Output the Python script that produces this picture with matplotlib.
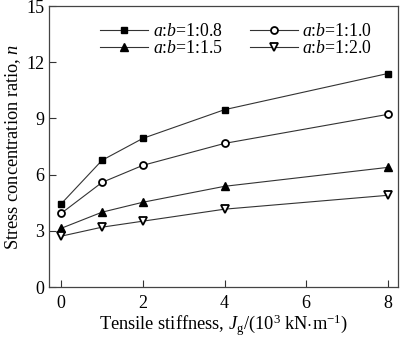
import matplotlib
matplotlib.use("Agg")
import matplotlib.pyplot as plt

x = [0, 1, 2, 4, 8]
s08 = [4.45, 6.77, 7.94, 9.47, 11.4]
s10 = [3.94, 5.59, 6.5, 7.67, 9.22]
s15 = [3.14, 4.0, 4.53, 5.38, 6.39]
s20 = [2.72, 3.2, 3.52, 4.16, 4.9]
labels = [r"$a$:$b$=1:0.8", r"$a$:$b$=1:1.0", r"$a$:$b$=1:1.5", r"$a$:$b$=1:2.0"]

plt.rcParams['font.family'] = ['Liberation Serif', 'DejaVu Serif']
plt.rcParams['mathtext.fontset'] = 'custom'
plt.rcParams['mathtext.it'] = 'Liberation Serif:italic'
plt.rcParams['mathtext.rm'] = 'Liberation Serif'

fig = plt.figure(figsize=(4, 3.37), dpi=100)
ax = fig.add_axes([0.1225, 0.148, 0.8725, 0.834])

lc = '#333333'
kw = dict(color=lc, lw=0.8, markeredgecolor='black')
h1, = ax.plot(x, s08, marker='s', markersize=4.8, markerfacecolor='black', label=labels[0], **kw)
h2, = ax.plot(x, s10, marker='o', markersize=5, markerfacecolor='white', markeredgewidth=1.3, label=labels[1], **kw)
h3, = ax.plot(x, s15, marker='^', markersize=6, markerfacecolor='black', label=labels[2], **kw)
h4, = ax.plot(x, s20, marker='v', markersize=5.5, markerfacecolor='white', markeredgewidth=1.3, label=labels[3], **kw)

ax.set_xlim(-0.3, 8.25)
ax.set_ylim(0, 15)
ax.set_xticks([0, 2, 4, 6, 8])
ax.set_yticks([0, 3, 6, 9, 12, 15])
ax.tick_params(direction='in', labelsize=13, length=5, width=0.8, colors='#333333', labelcolor='black')
ax.tick_params(axis='x', pad=6)
for sp in ax.spines.values():
    sp.set_color('#444444')
    sp.set_linewidth(0.9)

ax.set_xlabel(r"Tensile stiffness, $J$$_{\rm g}$/(10$^3$ kN$\cdot$m$^{-1}$)", fontsize=13.2, labelpad=0)
ax.set_ylabel(r"Stress concentration ratio, $n$", fontsize=13.2, labelpad=2)

ax.legend(handles=[h1, h3, h2, h4], ncol=2, loc='upper left', bbox_to_anchor=(0.127, 0.965),
          frameon=False, fontsize=12.8, handlelength=2.7, handletextpad=0.25,
          columnspacing=1.5, labelspacing=0.0, borderaxespad=0)

fig.savefig("out.png", dpi=100)
